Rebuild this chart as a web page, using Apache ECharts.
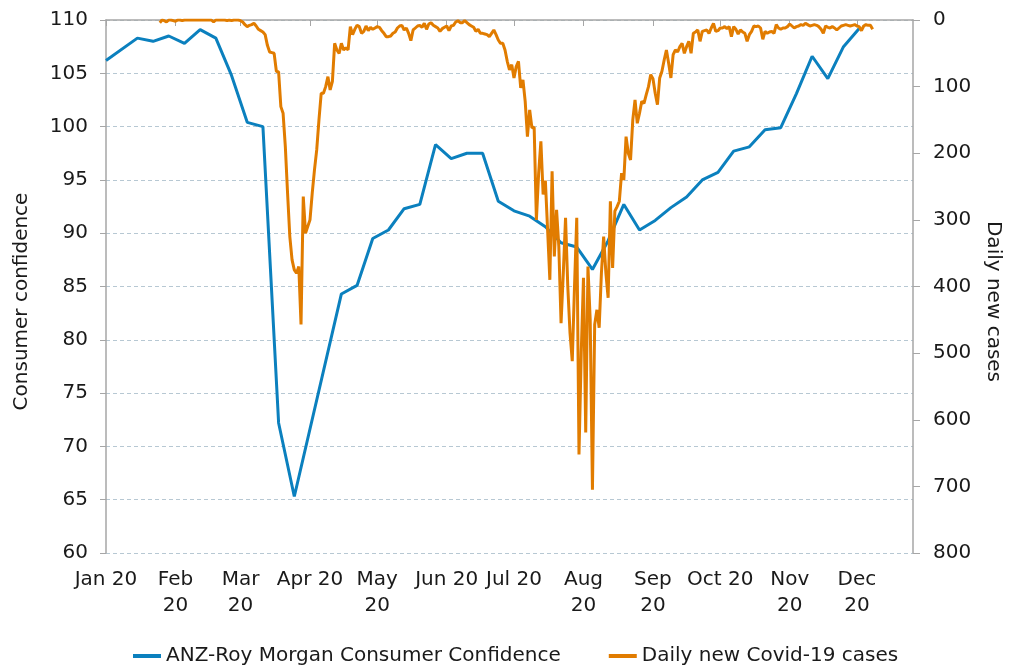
<!DOCTYPE html>
<html>
<head>
<meta charset="utf-8">
<title>Consumer confidence vs Covid-19 cases</title>
<script src="https://cdn.jsdelivr.net/npm/echarts@6/dist/echarts.min.js"></script>
<style>
  html, body { margin: 0; padding: 0; background: #fff; }
  #chartDiv { width: 1019px; height: 667px; }
</style>
</head>
<body>
<div id="chartDiv"></div>
<script>
// x axis: one category per day, Jan 1 2020 .. Dec 26 2020
var startDay = '2020-01-01';
var dayCount = 361;
var monthLabels = ['Jan 20', 'Feb\n20', 'Mar\n20', 'Apr 20', 'May\n20', 'Jun 20',
                   'Jul 20', 'Aug\n20', 'Sep\n20', 'Oct 20', 'Nov\n20', 'Dec\n20'];

// ANZ-Roy Morgan Consumer Confidence (left axis)
var confDates = ['2020-01-01', '2020-01-15', '2020-01-22', '2020-01-29', '2020-02-05', '2020-02-12',
                 '2020-02-19', '2020-02-26', '2020-03-04', '2020-03-11', '2020-03-18', '2020-03-25',
                 '2020-04-15', '2020-04-22', '2020-04-29', '2020-05-06', '2020-05-13', '2020-05-20',
                 '2020-05-27', '2020-06-03', '2020-06-10', '2020-06-17', '2020-06-24', '2020-07-01',
                 '2020-07-08', '2020-07-15', '2020-07-22', '2020-07-29', '2020-08-05', '2020-08-12',
                 '2020-08-19', '2020-08-26', '2020-09-02', '2020-09-09', '2020-09-16', '2020-09-23',
                 '2020-09-30', '2020-10-07', '2020-10-14', '2020-10-21', '2020-10-28', '2020-11-04',
                 '2020-11-11', '2020-11-18', '2020-11-25', '2020-12-02'];
var confValues = [106.2, 108.3, 108.0, 108.5, 107.8, 109.1,
                  108.3, 104.8, 100.4, 100.0, 72.2, 65.3,
                  84.3, 85.1, 89.5, 90.3, 92.3, 92.7,
                  98.3, 97.0, 97.5, 97.5, 93.0, 92.1,
                  91.6, 90.6, 89.1, 88.7, 86.6, 89.3,
                  92.7, 90.3, 91.2, 92.4, 93.4, 95.0,
                  95.7, 97.7, 98.1, 99.7, 99.9, 103.1,
                  106.6, 104.5, 107.5, 109.2];

// Daily new Covid-19 cases (right axis, inverted), one value per day from casesStart
var casesStart = '2020-01-25';
var casesValues = [
  4, 0, 1, 3, 0, 0, 1, 2, 0, 0,
  1, 0, 0, 0, 0, 0, 0, 0, 0, 0,
  0, 0, 0, 0, 3, 0, 0, 0, 0, 0,
  1, 0, 1, 0, 0, 0, 1, 3, 7, 10,
  8, 7, 5, 9, 14, 16, 18, 22, 38, 48,
  49, 50, 77, 78, 130, 140, 190, 260, 325, 360,
  375, 380, 370, 457, 265, 320, 310, 300, 260, 225,
  195, 150, 110, 110, 100, 85, 105, 92, 35, 45,
  50, 35, 45, 42, 45, 10, 22, 14, 8, 10,
  20, 17, 9, 16, 11, 14, 12, 10, 11, 16,
  20, 25, 25, 24, 20, 18, 12, 9, 8, 15,
  12, 20, 31, 15, 12, 9, 8, 11, 5, 14,
  6, 4, 8, 10, 12, 17, 13, 11, 9, 16,
  9, 8, 3, 1, 4, 4, 1, 4, 7, 9,
  11, 17, 14, 20, 20, 21, 22, 25, 20, 15,
  22, 30, 35, 35, 45, 62, 75, 67, 87, 70,
  62, 102, 90, 122, 175, 135, 162, 161, 300, 230,
  182, 262, 241, 315, 390, 227, 355, 285, 340, 455,
  380, 297, 400, 470, 512, 400, 297, 652, 500, 387,
  619, 370, 450, 705, 457, 435, 462, 380, 325, 380,
  417, 272, 372, 287, 280, 272, 230, 240, 175, 200,
  210, 150, 120, 155, 140, 122, 125, 112, 100, 82,
  88, 110, 127, 87, 77, 60, 45, 65, 87, 52,
  45, 48, 40, 35, 50, 40, 32, 50, 20, 18,
  15, 32, 17, 16, 15, 20, 12, 5, 17, 16,
  12, 12, 10, 13, 10, 25, 10, 14, 21, 15,
  18, 20, 32, 22, 17, 9, 10, 9, 12, 29,
  17, 20, 18, 17, 20, 7, 12, 14, 12, 12,
  10, 6, 9, 12, 10, 9, 7, 8, 5, 7,
  9, 8, 7, 8, 10, 14, 20, 9, 11, 12,
  10, 12, 15, 12, 9, 8, 7, 8, 9, 8,
  7, 9, 10, 16, 9, 7, 8, 8, 14
];

var fontName = 'DejaVu Sans';
var textColor = '#1a1a1a';
var axisColor = '#a6a6a6';

function fmtDay(d) {
    var m = d.getUTCMonth() + 1, dd = d.getUTCDate();
    return d.getUTCFullYear() + '-' + (m < 10 ? '0' : '') + m + '-' + (dd < 10 ? '0' : '') + dd;
}

var days = [];
var t0 = new Date(startDay + 'T00:00:00Z');
for (var i = 0; i < dayCount; i++) {
    days.push(fmtDay(new Date(t0.getTime() + i * 86400000)));
}

var confData = [];
for (var i = 0; i < days.length; i++) confData.push(null);
for (var i = 0; i < confDates.length; i++) confData[days.indexOf(confDates[i])] = confValues[i];

var casesData = [];
for (var i = 0; i < days.length; i++) casesData.push(null);
var c0 = days.indexOf(casesStart);
for (var i = 0; i < casesValues.length; i++) casesData[c0 + i] = casesValues[i];

function isMonthStart(index, value) {
    return value.slice(8) === '01';
}

var chart = echarts.init(document.getElementById('chartDiv'));
var option = {
    animation: false,
    textStyle: { fontFamily: fontName },
    grid: { left: 106, right: 106, top: 20, bottom: 114, outerBoundsMode: 'none' },
    legend: {
        left: 128,
        top: 641,
        icon: 'rect',
        itemWidth: 28,
        itemHeight: 4,
        itemGap: 48,
        textStyle: { fontFamily: fontName, fontSize: 20, color: textColor },
        data: ['ANZ-Roy Morgan Consumer Confidence', 'Daily new Covid-19 cases']
    },
    xAxis: {
        type: 'category',
        boundaryGap: false,
        data: days,
        axisLine: { lineStyle: { color: axisColor, width: 1.5 } },
        axisTick: { show: true, interval: isMonthStart, length: 6, lineStyle: { color: axisColor } },
        axisLabel: {
            interval: isMonthStart,
            margin: 14,
            fontSize: 20,
            lineHeight: 26,
            color: textColor,
            fontFamily: fontName,
            formatter: function (v) { return monthLabels[parseInt(v.slice(5, 7), 10) - 1]; }
        },
        splitLine: { show: false }
    },
    yAxis: [
        {
            type: 'value',
            min: 60,
            max: 110,
            interval: 5,
            name: 'Consumer confidence',
            nameLocation: 'middle',
            nameGap: 74,
            nameRotate: 90,
            nameTextStyle: { fontSize: 20, color: textColor, fontFamily: fontName, padding: [0, 30, 0, 0] },
            axisLine: { show: true, lineStyle: { color: axisColor, width: 1.5 } },
            axisTick: { show: true, length: 6, lineStyle: { color: axisColor } },
            axisLabel: { margin: 18, fontSize: 20, color: textColor, fontFamily: fontName },
            splitLine: { show: true, lineStyle: { color: '#b7c8d3', type: [4, 3], width: 1 } }
        },
        {
            type: 'value',
            inverse: true,
            min: 0,
            max: 800,
            interval: 100,
            position: 'right',
            name: 'Daily new cases',
            nameLocation: 'middle',
            nameGap: 70,
            nameRotate: -90,
            nameTextStyle: { fontSize: 20, color: textColor, fontFamily: fontName, padding: [0, 0, 0, 30] },
            axisLine: { show: true, lineStyle: { color: axisColor, width: 1.5 } },
            axisTick: { show: true, length: 7, lineStyle: { color: axisColor } },
            axisLabel: { margin: 20, fontSize: 20, color: textColor, fontFamily: fontName },
            splitLine: { show: false }
        }
    ],
    series: [
        {
            name: 'ANZ-Roy Morgan Consumer Confidence',
            type: 'line',
            yAxisIndex: 0,
            data: confData,
            connectNulls: true,
            showSymbol: false,
            symbol: 'none',
            color: '#0b80be',
            lineStyle: { color: '#0b80be', width: 3 }
        },
        {
            name: 'Daily new Covid-19 cases',
            type: 'line',
            yAxisIndex: 1,
            data: casesData,
            showSymbol: false,
            symbol: 'none',
            color: '#e17c00',
            lineStyle: { color: '#e17c00', width: 3 }
        }
    ]
};
chart.setOption(option);
</script>
</body>
</html>
